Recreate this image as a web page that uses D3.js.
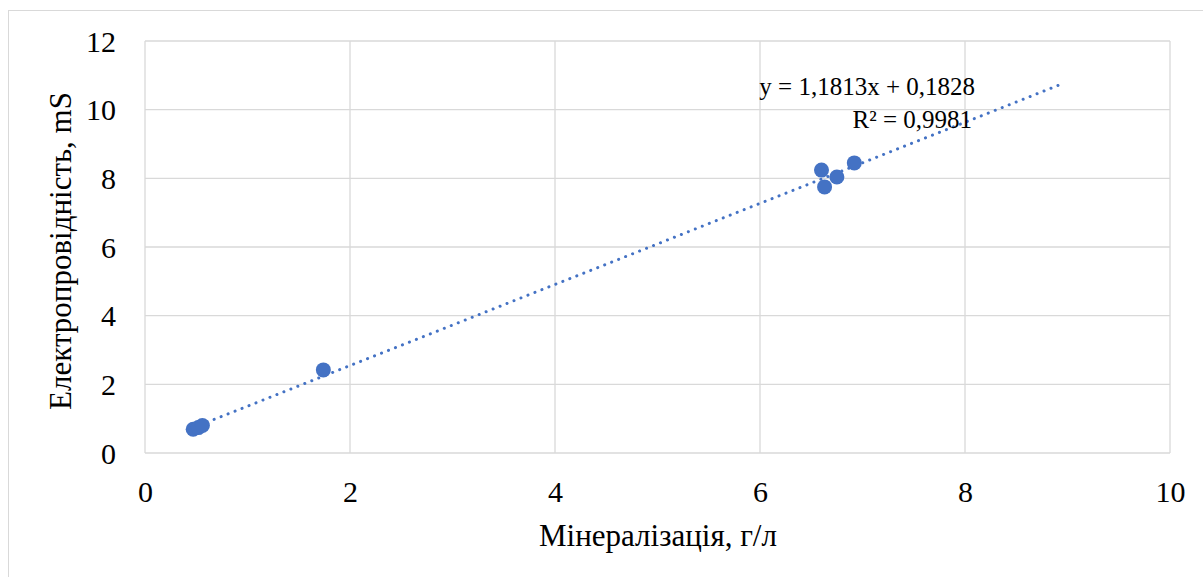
<!DOCTYPE html>
<html>
<head>
<meta charset="utf-8">
<script src="https://cdn.jsdelivr.net/npm/d3@7"></script>
<style>
  body { margin: 0; background: #fff; }
  svg text { font-family: "Liberation Serif", "Times New Roman", serif; fill: #000; }
</style>
</head>
<body>
<svg id="chart" width="1203" height="577"></svg>
<script>
// мінералізація, г/л
const mineral = [0.47, 0.52, 0.56, 1.74, 6.60, 6.63, 6.75, 6.92];
// електропровідність, mS
const conduct = [0.69, 0.74, 0.80, 2.42, 8.24, 7.75, 8.04, 8.45];
const xTicks = [0, 2, 4, 6, 8, 10];
const yTicks = [0, 2, 4, 6, 8, 10, 12];
const slope = 1.1813, intercept = 0.1828;
const trendEnd = 8.92;

const serif = '"Liberation Serif", "Times New Roman", serif';
const svg = d3.select('svg#chart');
const margin = { left: 145, top: 41, right: 33, bottom: 124 };
const W = 1203, H = 577;

svg.append('rect')
  .attr('x', 8.5).attr('y', 10.5)
  .attr('width', W).attr('height', H)
  .attr('fill', 'none').attr('stroke', '#d9d9d9');

const x = d3.scaleLinear().domain([0, 10]).range([margin.left, W - margin.right]);
const y = d3.scaleLinear().domain([0, 12]).range([H - margin.bottom, margin.top]);

const grid = svg.append('g');
grid.selectAll('line.v').data(xTicks).enter().append('line')
  .attr('x1', d => x(d)).attr('x2', d => x(d))
  .attr('y1', y(0)).attr('y2', y(12))
  .attr('stroke', '#d9d9d9').attr('stroke-width', 1.3);
grid.selectAll('line.h').data(yTicks).enter().append('line')
  .attr('y1', d => y(d)).attr('y2', d => y(d))
  .attr('x1', x(0)).attr('x2', x(10))
  .attr('stroke', '#d9d9d9').attr('stroke-width', 1.3);

const xAxis = svg.append('g')
  .attr('transform', `translate(0,${y(0)})`)
  .call(d3.axisBottom(x).tickValues(xTicks).tickSize(0).tickPadding(0));
const yAxis = svg.append('g')
  .attr('transform', `translate(${x(0)},0)`)
  .call(d3.axisLeft(y).tickValues(yTicks).tickSize(0).tickPadding(29));
[xAxis, yAxis].forEach(a => {
  a.attr('font-family', serif);
  a.select('.domain').remove();
  a.selectAll('text')
    .style('font-family', serif)
    .style('font-size', '30px')
    .attr('fill', '#000');
});
xAxis.selectAll('text').attr('dy', null).attr('y', 49);
yAxis.selectAll('text').attr('dy', '0.34em');

// trend line
const lo = d3.min(mineral);
svg.append('line')
  .attr('x1', x(lo)).attr('y1', y(slope * lo + intercept))
  .attr('x2', x(trendEnd)).attr('y2', y(slope * trendEnd + intercept))
  .attr('stroke', '#4472c4').attr('stroke-width', 3)
  .attr('stroke-linecap', 'round').attr('stroke-dasharray', '0.1 7.4');

svg.selectAll('circle').data(d3.zip(mineral, conduct)).enter().append('circle')
  .attr('cx', d => x(d[0])).attr('cy', d => y(d[1]))
  .attr('r', 7.5).attr('fill', '#4472c4');

svg.append('text').attr('x', 975).attr('y', 95)
  .attr('text-anchor', 'end').style('font-size', '25px')
  .text('y = 1,1813x + 0,1828');
svg.append('text').attr('x', 972).attr('y', 128)
  .attr('text-anchor', 'end').style('font-size', '25px')
  .text('R² = 0,9981');

svg.append('text')
  .attr('x', 658).attr('y', 546)
  .attr('text-anchor', 'middle').style('font-size', '31px')
  .text('Мінералізація, г/л');
svg.append('text')
  .attr('transform', `translate(71,251) rotate(-90)`)
  .attr('text-anchor', 'middle').style('font-size', '31px')
  .text('Електропровідність, mS');
</script>
</body>
</html>
